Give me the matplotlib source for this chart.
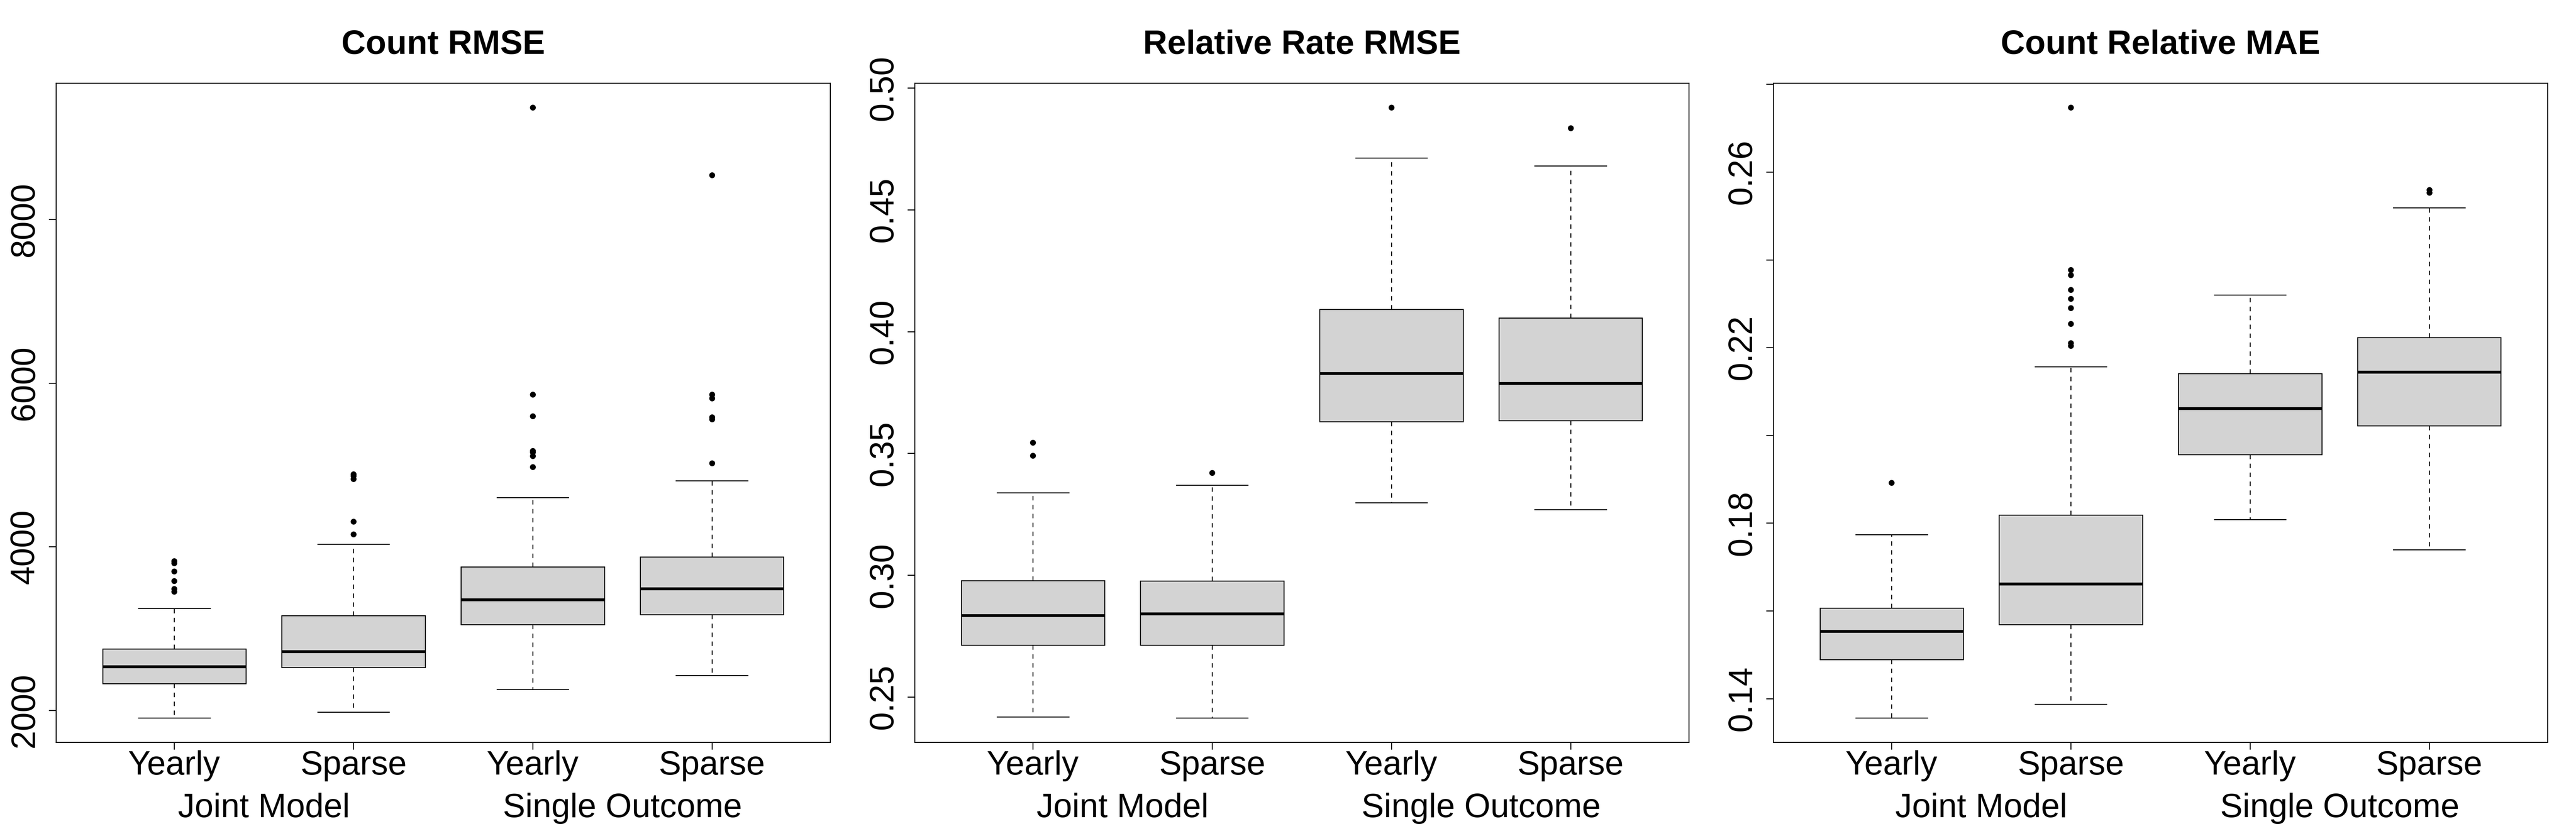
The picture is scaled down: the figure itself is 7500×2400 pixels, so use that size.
import matplotlib
matplotlib.use("Agg")
import matplotlib.pyplot as plt
from matplotlib.transforms import blended_transform_factory

plt.rcParams['font.family'] = ['Liberation Sans', 'DejaVu Sans']

# ---------------- data ----------------
titles = ["Count RMSE", "Relative Rate RMSE", "Count Relative MAE"]
tick_labels = ["Yearly", "Sparse", "Yearly", "Sparse"]
group_labels = ["Joint Model", "Single Outcome"]
group_centers = [1.5, 3.5]

# Count RMSE
count_rmse_whislo = [1910, 1981, 2256, 2429]
count_rmse_q1 = [2328, 2526, 3051, 3173]
count_rmse_med = [2534, 2718, 3353, 3487]
count_rmse_q3 = [2751, 3160, 3756, 3878]
count_rmse_whishi = [3247, 4032, 4603, 4808]
count_rmse_fliers = [
    [3451, 3485, 3581, 3702, 3800, 3825],
    [4154, 4308, 4827, 4865, 4885],
    [4974, 5109, 5154, 5173, 5596, 5859, 9365],
    [5019, 5558, 5583, 5814, 5859, 8538],
]
count_rmse_ticks = [2000, 4000, 6000, 8000]
count_rmse_ticklabels = ["2000", "4000", "6000", "8000"]

# Relative Rate RMSE
rr_rmse_whislo = [0.2418, 0.2414, 0.3297, 0.3269]
rr_rmse_q1 = [0.2713, 0.2713, 0.3631, 0.3634]
rr_rmse_med = [0.2834, 0.2841, 0.3828, 0.3787]
rr_rmse_q3 = [0.2978, 0.2976, 0.4091, 0.4056]
rr_rmse_whishi = [0.3338, 0.3369, 0.4713, 0.4681]
rr_rmse_fliers = [
    [0.3491, 0.3545],
    [0.3420],
    [0.4920],
    [0.4836],
]
rr_rmse_ticks = [0.25, 0.30, 0.35, 0.40, 0.45, 0.50]
rr_rmse_ticklabels = ["0.25", "0.30", "0.35", "0.40", "0.45", "0.50"]

# Count Relative MAE
count_mae_whislo = [0.1356, 0.1387, 0.1808, 0.1739]
count_mae_q1 = [0.1489, 0.1569, 0.1956, 0.2022]
count_mae_med = [0.1553, 0.1661, 0.2061, 0.2144]
count_mae_q3 = [0.1606, 0.1818, 0.2141, 0.2223]
count_mae_whishi = [0.1774, 0.2156, 0.2320, 0.2519]
count_mae_fliers = [
    [0.1892],
    [0.2204, 0.2210, 0.2254, 0.2290, 0.2311, 0.2332, 0.2365, 0.2377, 0.2747],
    [],
    [0.2553, 0.2559],
]
count_mae_ticks = [0.14, 0.16, 0.18, 0.20, 0.22, 0.24, 0.26, 0.28]
count_mae_ticklabels = ["0.14", "", "0.18", "", "0.22", "", "0.26", ""]

panels = [
    (count_rmse_whislo, count_rmse_q1, count_rmse_med, count_rmse_q3,
     count_rmse_whishi, count_rmse_fliers, count_rmse_ticks, count_rmse_ticklabels),
    (rr_rmse_whislo, rr_rmse_q1, rr_rmse_med, rr_rmse_q3,
     rr_rmse_whishi, rr_rmse_fliers, rr_rmse_ticks, rr_rmse_ticklabels),
    (count_mae_whislo, count_mae_q1, count_mae_med, count_mae_q3,
     count_mae_whishi, count_mae_fliers, count_mae_ticks, count_mae_ticklabels),
]

# ---------------- figure ----------------
W, H = 7500, 2400
fig = plt.figure(figsize=(25, 8), dpi=300)

FS = 23.5
LW = 0.65
box_left, box_right, box_top, box_bottom = 163, 2417, 242, 2162

for i, (lo, q1, med, q3, hi, fl, yt, ytl) in enumerate(panels):
    left = (box_left + 2500 * i) / W
    width = (box_right - box_left) / W
    bottom = (H - box_bottom) / H
    height = (box_bottom - box_top) / H
    ax = fig.add_axes([left, bottom, width, height])

    stats = []
    for k in range(4):
        stats.append(dict(whislo=lo[k], q1=q1[k], med=med[k], q3=q3[k],
                          whishi=hi[k], fliers=fl[k]))
    positions = [1, 2, 3, 4]
    ax.bxp(stats, positions=positions, widths=0.8, capwidths=0.4,
           patch_artist=True, showfliers=True,
           boxprops=dict(facecolor='#D3D3D3', edgecolor='black', linewidth=LW),
           medianprops=dict(color='black', linewidth=2.0, solid_capstyle='butt'),
           whiskerprops=dict(color='black', linewidth=LW, linestyle=(0, (4.8, 4.8))),
           capprops=dict(color='black', linewidth=LW),
           flierprops=dict(marker='o', markersize=4.1, markerfacecolor='black',
                           markeredgecolor='black', markeredgewidth=0, linestyle='none'))

    ax.set_xlim(0.34, 4.66)
    ax.margins(y=0.04)
    ax.autoscale(enable=True, axis='y')

    ax.set_xticks(positions)
    ax.set_xticklabels(tick_labels, fontsize=FS)
    ax.set_yticks(yt)
    ax.set_yticklabels(ytl, fontsize=FS, rotation=90, va='center')

    ax.tick_params(axis='both', direction='out', length=5, width=LW, color='black')
    ax.tick_params(axis='x', pad=0.5)
    ax.tick_params(axis='y', pad=5.8)
    for sp in ax.spines.values():
        sp.set_linewidth(LW)
        sp.set_color('black')

    ax.set_title(titles[i], fontsize=FS, fontweight='bold', pad=20.4)

    trans = blended_transform_factory(ax.transData, ax.transAxes)
    for gx, gl in zip(group_centers, group_labels):
        ax.annotate(gl, xy=(gx, 0), xycoords=trans, xytext=(0, -52.3),
                    textcoords='offset points', ha='center', va='baseline',
                    fontsize=FS, annotation_clip=False)

fig.savefig("out.png", dpi=300)
